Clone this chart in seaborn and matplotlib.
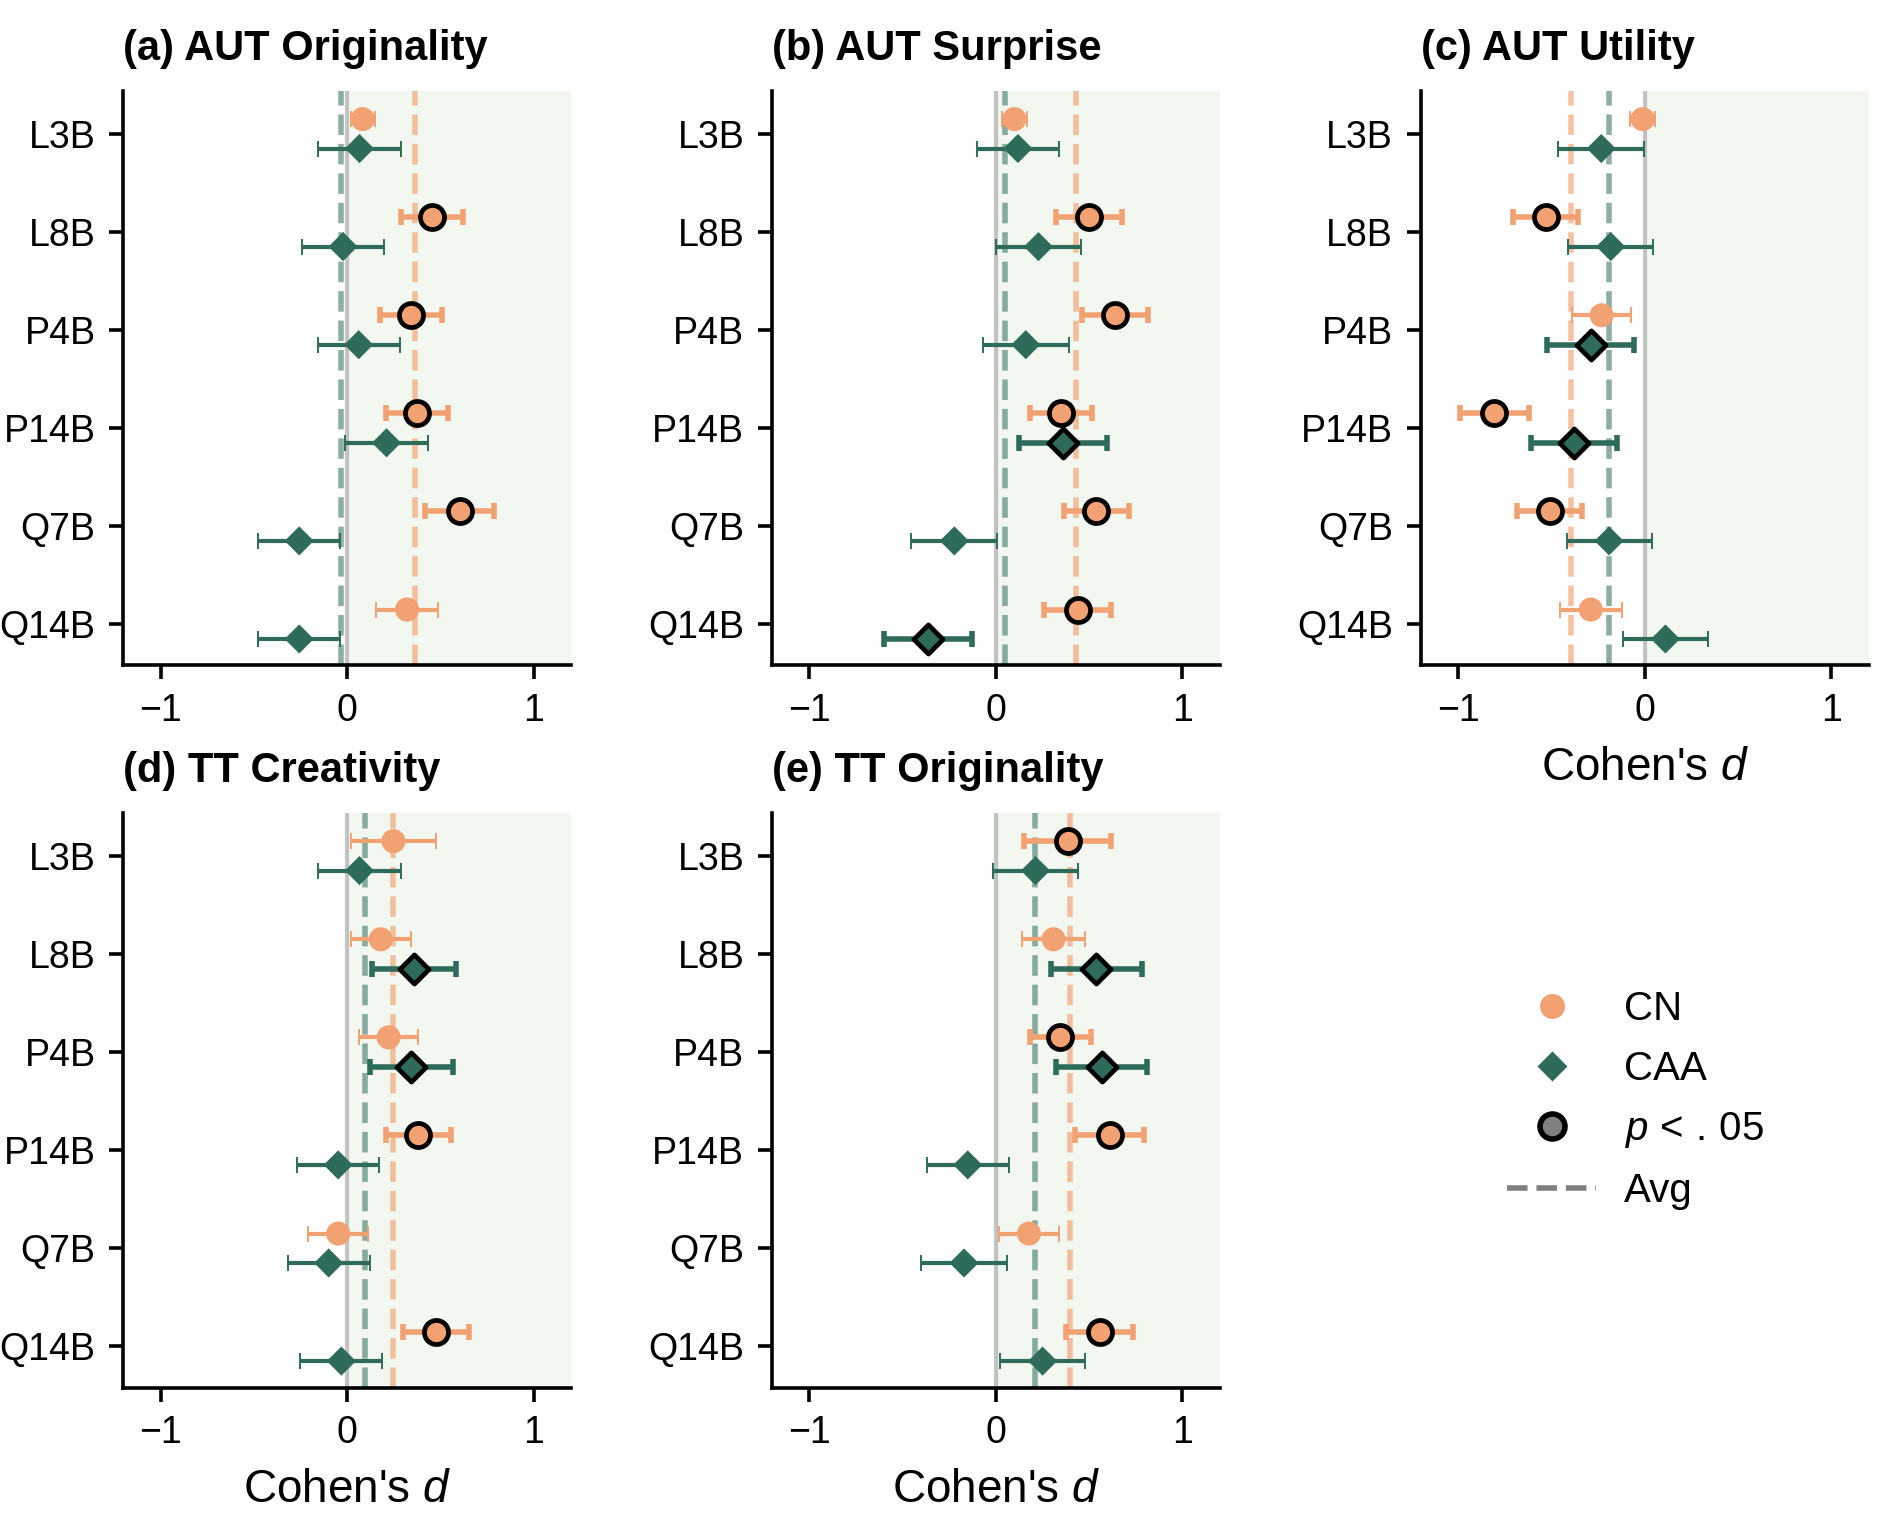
import numpy as np
import pandas as pd
import matplotlib
matplotlib.use("Agg")
import matplotlib.pyplot as plt
import seaborn as sns
from matplotlib.lines import Line2D

# ---------------- data ----------------
models = ["L3B", "L8B", "P4B", "P14B", "Q7B", "Q14B"]
titles = ["(a) AUT Originality", "(b) AUT Surprise", "(c) AUT Utility",
          "(d) TT Creativity", "(e) TT Originality"]
xticks = [-1, 0, 1]

# (a) AUT Originality
aut_orig_cn_d = [0.083, 0.455, 0.343, 0.374, 0.604, 0.321]
aut_orig_cn_ci = [0.065, 0.165, 0.165, 0.167, 0.185, 0.168]
aut_orig_cn_sig = [0, 1, 1, 1, 1, 0]
aut_orig_caa_d = [0.066, -0.022, 0.062, 0.211, -0.257, -0.257]
aut_orig_caa_ci = [0.220, 0.218, 0.219, 0.220, 0.219, 0.219]
aut_orig_caa_sig = [0, 0, 0, 0, 0, 0]

# (b) AUT Surprise
aut_surp_cn_d = [0.099, 0.500, 0.637, 0.350, 0.539, 0.438]
aut_surp_cn_ci = [0.068, 0.177, 0.178, 0.166, 0.175, 0.178]
aut_surp_cn_sig = [0, 1, 1, 1, 1, 1]
aut_surp_caa_d = [0.118, 0.228, 0.160, 0.359, -0.223, -0.364]
aut_surp_caa_ci = [0.220, 0.230, 0.230, 0.234, 0.230, 0.234]
aut_surp_caa_sig = [0, 0, 0, 1, 0, 1]

# (c) AUT Utility
aut_util_cn_d = [-0.011, -0.531, -0.231, -0.807, -0.510, -0.289]
aut_util_cn_ci = [0.066, 0.175, 0.160, 0.185, 0.175, 0.167]
aut_util_cn_sig = [0, 1, 0, 1, 1, 0]
aut_util_caa_d = [-0.233, -0.182, -0.289, -0.379, -0.191, 0.111]
aut_util_caa_ci = [0.230, 0.228, 0.233, 0.230, 0.228, 0.229]
aut_util_caa_sig = [0, 0, 1, 1, 0, 0]

# (d) TT Creativity
tt_crea_cn_d = [0.248, 0.180, 0.222, 0.382, -0.048, 0.475]
tt_crea_cn_ci = [0.228, 0.160, 0.160, 0.175, 0.160, 0.177]
tt_crea_cn_sig = [0, 0, 0, 1, 0, 1]
tt_crea_caa_d = [0.066, 0.356, 0.343, -0.048, -0.099, -0.031]
tt_crea_caa_ci = [0.220, 0.225, 0.223, 0.220, 0.220, 0.220]
tt_crea_caa_sig = [0, 1, 1, 0, 0, 0]

# (e) TT Originality
tt_orig_cn_d = [0.385, 0.309, 0.346, 0.609, 0.177, 0.556]
tt_orig_cn_ci = [0.234, 0.169, 0.163, 0.185, 0.160, 0.179]
tt_orig_cn_sig = [1, 0, 1, 1, 0, 1]
tt_orig_caa_d = [0.212, 0.539, 0.567, -0.151, -0.171, 0.250]
tt_orig_caa_ci = [0.230, 0.246, 0.243, 0.219, 0.230, 0.230]
tt_orig_caa_sig = [0, 1, 1, 0, 0, 0]

panels = [
    (aut_orig_cn_d, aut_orig_cn_ci, aut_orig_cn_sig, aut_orig_caa_d, aut_orig_caa_ci, aut_orig_caa_sig),
    (aut_surp_cn_d, aut_surp_cn_ci, aut_surp_cn_sig, aut_surp_caa_d, aut_surp_caa_ci, aut_surp_caa_sig),
    (aut_util_cn_d, aut_util_cn_ci, aut_util_cn_sig, aut_util_caa_d, aut_util_caa_ci, aut_util_caa_sig),
    (tt_crea_cn_d, tt_crea_cn_ci, tt_crea_cn_sig, tt_crea_caa_d, tt_crea_caa_ci, tt_crea_caa_sig),
    (tt_orig_cn_d, tt_orig_cn_ci, tt_orig_cn_sig, tt_orig_caa_d, tt_orig_caa_ci, tt_orig_caa_sig),
]
show_xlabel = [False, False, True, True, True]

# ---------------- style ----------------
CN_COLOR = "#F2A172"
CAA_COLOR = "#2F6B5B"
SHADE = "#d8ebd3"

sns.set_theme(style="ticks")
plt.rcParams["font.family"] = ["Liberation Sans", "DejaVu Sans"]
plt.rcParams["mathtext.fontset"] = "custom"
plt.rcParams["mathtext.rm"] = "Liberation Sans"
plt.rcParams["mathtext.it"] = "Liberation Sans:italic"
plt.rcParams["axes.linewidth"] = 1.3
plt.rcParams["xtick.major.width"] = 1.3
plt.rcParams["ytick.major.width"] = 1.3
for key in ["text.color", "axes.labelcolor", "xtick.color", "ytick.color",
            "axes.edgecolor"]:
    plt.rcParams[key] = "black"

fig = plt.figure(figsize=(9.485, 7.695), dpi=200)
W, H = 0.236, 0.3735
lefts = [0.065, 0.407, 0.749]
bottoms = [0.5676, 0.0984]
positions = [(lefts[0], bottoms[0]), (lefts[1], bottoms[0]), (lefts[2], bottoms[0]),
             (lefts[0], bottoms[1]), (lefts[1], bottoms[1])]

XMIN, XMAX = -1.2, 1.2
OFF = 0.15

for i, (vals, pos) in enumerate(zip(panels, positions)):
    cn_d, cn_ci, cn_sig, caa_d, caa_ci, caa_sig = vals
    ax = fig.add_axes([pos[0], pos[1], W, H])
    ax.axvspan(0, XMAX, color=SHADE, alpha=0.32, lw=0, zorder=0)
    ax.axvline(0, color="gray", alpha=0.45, lw=1.5, zorder=1)
    ax.axvline(np.mean(cn_d), color=CN_COLOR, ls="--", lw=2, alpha=0.65, zorder=1)
    ax.axvline(np.mean(caa_d), color=CAA_COLOR, ls="--", lw=2, alpha=0.55, zorder=1)

    ybase = np.arange(len(models))
    for d, ci, sig, off, color, marker, s in [
        (cn_d, cn_ci, cn_sig, -OFF, CN_COLOR, "o", 75),
        (caa_d, caa_ci, caa_sig, OFF, CAA_COLOR, "D", 55),
    ]:
        df = pd.DataFrame({"model": models, "d": d, "ci": ci, "sig": sig,
                           "y": ybase + off})
        ns = df[df.sig == 0]
        sg = df[df.sig == 1]
        if len(ns):
            ax.errorbar(ns.d, ns.y, xerr=ns.ci, fmt="none", ecolor=color,
                        elinewidth=1.5, capsize=3, capthick=0.7, zorder=2)
            sns.scatterplot(data=ns, x="d", y="y", ax=ax, marker=marker,
                            color=color, s=s, edgecolor="none", linewidth=0,
                            legend=False, zorder=3)
        if len(sg):
            ax.errorbar(sg.d, sg.y, xerr=sg.ci, fmt="none", ecolor=color,
                        elinewidth=2, capsize=3, capthick=2, zorder=2)
            sns.scatterplot(data=sg, x="d", y="y", ax=ax, marker=marker,
                            color=color, s=s, edgecolor="black", linewidth=1.7,
                            legend=False, zorder=4)

    ax.set_xlim(XMIN, XMAX)
    ax.set_ylim(len(models) - 1 + 0.42, -0.44)
    ax.set_yticks(ybase)
    ax.set_yticklabels(models)
    ax.set_xticks(xticks)
    ax.set_xticklabels(["\u22121", "0", "1"])
    ax.tick_params(axis="both", labelsize=13.5, length=5, pad=5)
    ax.set_ylabel("")
    ax.set_xlabel("Cohen's $d$" if show_xlabel[i] else "", fontsize=16.5,
                  labelpad=6)
    ax.set_title(titles[i], loc="left", fontsize=15, fontweight="bold", pad=11)
    sns.despine(ax=ax)

# legend panel
lax = fig.add_axes([lefts[2], bottoms[1], W, H])
lax.axis("off")
handles = [
    Line2D([0], [0], marker="o", color="none", markerfacecolor=CN_COLOR,
           markeredgecolor="none", markersize=9),
    Line2D([0], [0], marker="D", color="none", markerfacecolor=CAA_COLOR,
           markeredgecolor="none", markersize=7.4),
    Line2D([0], [0], marker="o", color="none", markerfacecolor="gray",
           markeredgecolor="black", markeredgewidth=2, markersize=9),
    Line2D([0], [0], color="gray", ls="--", lw=2),
]
labels = ["CN", "CAA", r"$p\,<\,.\,05$", "Avg"]
lax.legend(handles, labels, loc="center", bbox_to_anchor=(0.48, 0.5),
           frameon=False, fontsize=14.5,
           handlelength=2.2, handletextpad=0.7, labelspacing=0.55)

fig.savefig("out.png", dpi=200)
